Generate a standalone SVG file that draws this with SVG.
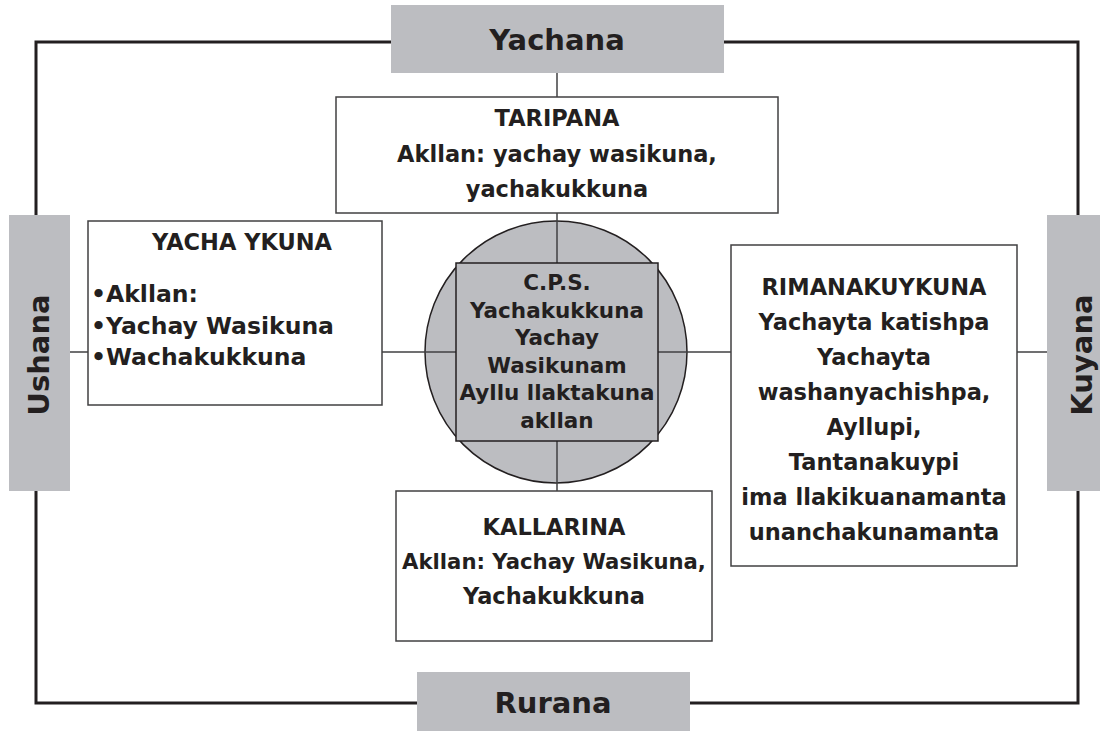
<svg xmlns="http://www.w3.org/2000/svg" width="1100" height="731" viewBox="0 0 1100 731">
  <style>
    .tab { fill: #bcbdc1; stroke: none; }
    .box { fill: #ffffff; stroke: #414042; stroke-width: 1.5; }
    .hub { fill: #bcbdc1; stroke: #231f20; stroke-width: 1.5; }
    .frame { fill: none; stroke: #231f20; stroke-width: 3; }
    .wire { stroke: #414042; stroke-width: 1.5; fill: none; }
    text { font-family: "DejaVu Sans", "Liberation Sans", sans-serif; font-weight: bold; fill: #231f20; }
    .big { font-size: 29px; text-anchor: middle; }
    .t { font-size: 22.5px; text-anchor: middle; }
    .c { font-size: 21.5px; text-anchor: middle; }
    .l { font-size: 23.5px; }
  </style>

  <!-- outer frame -->
  <rect class="frame" x="36" y="42" width="1042" height="661"/>

  <!-- centre ring -->
  <g id="hub-ring">
    <circle class="hub" cx="556" cy="352" r="131"/>
  </g>

  <!-- connectors -->
  <g id="connectors">
    <line class="wire" x1="557" y1="73" x2="557" y2="97"/>
    <line class="wire" x1="557" y1="213" x2="557" y2="263"/>
    <line class="wire" x1="557" y1="441" x2="557" y2="491"/>
    <line class="wire" x1="70" y1="352" x2="88" y2="352"/>
    <line class="wire" x1="382" y1="352" x2="456" y2="352"/>
    <line class="wire" x1="658" y1="352" x2="731" y2="352"/>
    <line class="wire" x1="1017" y1="352" x2="1047" y2="352"/>
  </g>

  <!-- side tabs -->
  <g id="yachana">
    <rect class="tab" x="391" y="5" width="333" height="68"/>
    <text class="big" x="557" y="50">Yachana</text>
  </g>
  <g id="rurana">
    <rect class="tab" x="417" y="672" width="273" height="68"/>
    <text class="big" x="553" y="713">Rurana</text>
  </g>
  <g id="ushana">
    <rect class="tab" x="9" y="215" width="61" height="276"/>
    <text class="big" transform="translate(49 355) rotate(-90)">Ushana</text>
  </g>
  <g id="kuyana">
    <rect class="tab" x="1047" y="215" width="61" height="276"/>
    <text class="big" transform="translate(1092 355) rotate(-90)">Kuyana</text>
  </g>

  <!-- boxes -->
  <g id="taripana">
    <rect class="box" x="336" y="97" width="442" height="116"/>
    <text class="t" x="557" y="126">TARIPANA</text>
    <text class="t" x="557" y="162">Akllan: yachay wasikuna,</text>
    <text class="t" x="557" y="197">yachakukkuna</text>
  </g>

  <g id="yacha-ykuna">
    <rect class="box" x="88" y="221" width="294" height="184"/>
    <text class="t" x="242" y="250">YACHA YKUNA</text>
    <text class="l" x="91" y="302">•Akllan:</text>
    <text class="l" x="91" y="334">•Yachay Wasikuna</text>
    <text class="l" x="91" y="365">•Wachakukkuna</text>
  </g>

  <g id="rimanakuykuna">
    <rect class="box" x="731" y="245" width="286" height="321"/>
    <text class="t" x="874" y="295">RIMANAKUYKUNA</text>
    <text class="t" x="874" y="330">Yachayta katishpa</text>
    <text class="t" x="874" y="365">Yachayta</text>
    <text class="t" x="874" y="400">washanyachishpa,</text>
    <text class="t" x="874" y="435">Ayllupi,</text>
    <text class="t" x="874" y="470">Tantanakuypi</text>
    <text class="t" x="874" y="505">ima llakikuanamanta</text>
    <text class="t" x="874" y="540">unanchakunamanta</text>
  </g>

  <g id="kallarina">
    <rect class="box" x="396" y="491" width="316" height="150"/>
    <text class="t" x="554" y="535">KALLARINA</text>
    <text class="t" x="554" y="569" style="font-size:21.2px">Akllan: Yachay Wasikuna,</text>
    <text class="t" x="554" y="604">Yachakukkuna</text>
  </g>

  <!-- centre square -->
  <g id="cps">
    <rect class="hub" x="456" y="263" width="202" height="178"/>
    <text class="c" x="557" y="290">C.P.S.</text>
    <text class="c" x="557" y="317.5">Yachakukkuna</text>
    <text class="c" x="557" y="345">Yachay</text>
    <text class="c" x="557" y="372.5">Wasikunam</text>
    <text class="c" x="557" y="400">Ayllu llaktakuna</text>
    <text class="c" x="557" y="427.5">akllan</text>
  </g>
</svg>
